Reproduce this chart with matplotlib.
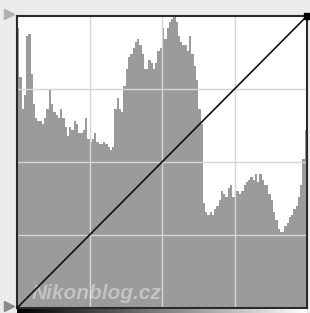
import numpy as np
import matplotlib
matplotlib.use("Agg")
import matplotlib.pyplot as plt

# Histogram: 128 bins over levels 0..255, heights in % of plot height
hist_heights = [
    96, 79, 68, 73, 93, 94, 80, 70, 65, 64, 64, 63, 65, 68, 75, 70,
    67, 66, 65, 68, 65, 62, 59, 62, 61, 64, 63, 60, 60, 61, 65, 58,
    57, 58, 60, 57, 56, 56, 57, 56, 55, 54, 55, 68, 72, 68, 67, 76,
    82, 86, 87, 89, 91, 92, 90, 87, 82, 82, 85, 84, 82, 84, 88, 89,
    96, 92, 96, 98, 99, 100, 98, 93, 91, 90, 90, 88, 93, 87, 83, 78,
    68, 63, 36, 33, 32, 33, 32, 34, 35, 37, 40, 39, 38, 41, 42, 38,
    40, 40, 39, 40, 42, 43, 44, 45, 44, 46, 43, 46, 44, 42, 42, 39,
    37, 33, 30, 27, 26, 26, 28, 29, 31, 32, 34, 35, 38, 42, 51, 61,
]
n_bins = len(hist_heights)
bin_levels = np.arange(n_bins) * (256 / n_bins)

# Tone curve (identity)
curve_in = [0, 255]
curve_out = [0, 255]

grid_levels = [64, 128, 192]
watermark = "Nikonblog.cz"

W, H = 310, 313
fig = plt.figure(figsize=(W / 100, H / 100), dpi=100)
fig.patch.set_facecolor("#ebebeb")

L, B, R, T = 17, 5, 307, 16
ax = fig.add_axes([L / W, B / H, (R - L) / W, (H - T - B) / H])
ax.set_facecolor("white")
ax.bar(bin_levels, hist_heights, width=256 / n_bins, align="edge",
       color="#9b9b9b", linewidth=0, zorder=1)
ax.set_xlim(0, 256)
ax.set_ylim(0, 100)
ax.set_xticks([])
ax.set_yticks([])
for g in grid_levels:
    ax.axvline(g, color="#d6d6d6", lw=1.0, zorder=2)
    ax.axhline(g * 100 / 256, color="#d6d6d6", lw=1.0, zorder=2)
for s in ax.spines.values():
    s.set_color("#2a2a2a")
    s.set_linewidth(1.5)

ax.text(0.05, 0.03, watermark, transform=ax.transAxes, fontsize=15,
        fontweight="bold", fontstyle="italic", family="Liberation Sans",
        color="white", alpha=0.4, zorder=3)

ax2 = fig.add_axes(ax.get_position(), frameon=False)
ax2.set_xlim(0, 255)
ax2.set_ylim(0, 255)
ax2.set_xticks([])
ax2.set_yticks([])
ax2.plot(curve_in, curve_out, color="#111111", lw=1.2, clip_on=False)
ax2.plot([curve_in[-1]], [curve_out[-1]], marker="s", color="black",
         markersize=4, clip_on=False)

# gradient bar at the bottom
gax = fig.add_axes([L / W, 0, (R - L) / W, (B - 0.5) / H])
gax.imshow(np.linspace(0, 1, 256)[None, :], cmap="gray", aspect="auto")
gax.set_axis_off()

# slider triangles at the left
fig.lines.append(plt.Line2D([9 / W], [1 - 14 / H], marker=">", color="#b0b0b0",
                            markersize=7, transform=fig.transFigure))
fig.lines.append(plt.Line2D([9 / W], [1 - 306 / H], marker=">", color="#8a8a8a",
                            markersize=7, transform=fig.transFigure))

fig.savefig("out.png", dpi=100, facecolor=fig.get_facecolor())
